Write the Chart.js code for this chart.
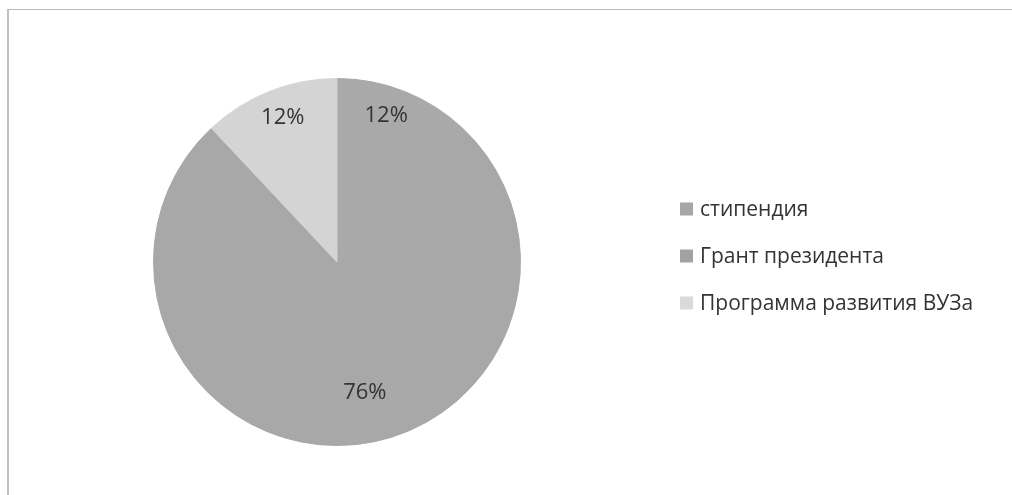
<!DOCTYPE html>
<html>
<head>
<meta charset="utf-8">
<script src="https://cdn.jsdelivr.net/npm/chart.js@4.4.0/dist/chart.umd.min.js"></script>
<style>
html,body{margin:0;padding:0;background:#fff;}
#wrap{position:relative;width:1012px;height:495px;overflow:hidden;}
#frame{position:absolute;left:7px;top:9px;width:1100px;height:600px;border-top:1px solid #b8b8b8;border-left:2px solid #c0c0c0;}
canvas{position:absolute;left:0;top:0;}
</style>
</head>
<body>
<div id="wrap">
<div id="frame"></div>
<canvas id="c" width="1012" height="495"></canvas>
</div>
<script>
const categories = ['стипендия', 'Грант президента', 'Программа развития ВУЗа'];
const values = [12, 76, 12];
const valueLabels = ['12%', '76%', '12%'];
const sliceColors = ['#a9a9a9', '#a8a8a8', '#d4d4d4'];
const legendColors = ['#a6a6a6', '#a2a2a2', '#dadada'];

const labelPlugin = {
  id: 'sliceLabels',
  afterDatasetsDraw(chart, args, opts) {
    const ctx = chart.ctx;
    const meta = chart.getDatasetMeta(0);
    ctx.save();
    ctx.font = opts.font;
    ctx.fillStyle = opts.color;
    ctx.textAlign = 'center';
    ctx.textBaseline = 'middle';
    meta.data.forEach((arc, i) => {
      const p = opts.place[i];
      const mid = (arc.startAngle + arc.endAngle) / 2 + p.da * Math.PI / 180;
      const r = arc.outerRadius * p.r;
      ctx.fillText(valueLabels[i], arc.x + Math.cos(mid) * r, arc.y + Math.sin(mid) * r);
    });
    ctx.restore();
  }
};

const legendPlugin = {
  id: 'sideLegend',
  afterDraw(chart, args, opts) {
    const ctx = chart.ctx;
    ctx.save();
    ctx.font = opts.font;
    ctx.textBaseline = 'middle';
    chart.data.labels.forEach((lab, i) => {
      const y = opts.y0 + i * opts.step;
      ctx.fillStyle = legendColors[i];
      ctx.fillRect(opts.x, y - opts.box / 2 - 1, opts.box, opts.box);
      ctx.fillStyle = opts.color;
      ctx.fillText(lab, opts.x + opts.box + opts.gap, y);
    });
    ctx.restore();
  }
};

new Chart(document.getElementById('c'), {
  type: 'pie',
  data: {
    labels: categories,
    datasets: [{
      data: values,
      backgroundColor: sliceColors,
      borderColor: sliceColors,
      borderWidth: 1
    }]
  },
  options: {
    responsive: false,
    animation: false,
    layout: { padding: { left: 153, right: 491, top: 78, bottom: 49 } },
    plugins: {
      legend: { display: false },
      tooltip: { enabled: false },
      sliceLabels: {
        font: '22px "Open Sans", sans-serif',
        color: '#333333',
        place: [{ r: 0.84, da: -3 }, { r: 0.73, da: -12 }, { r: 0.84, da: 1 }]
      },
      sideLegend: {
        x: 680, y0: 210, step: 47, box: 13, gap: 7,
        font: '21px "Open Sans", sans-serif',
        color: '#333333'
      }
    }
  },
  plugins: [labelPlugin, legendPlugin]
});
</script>
</body>
</html>
